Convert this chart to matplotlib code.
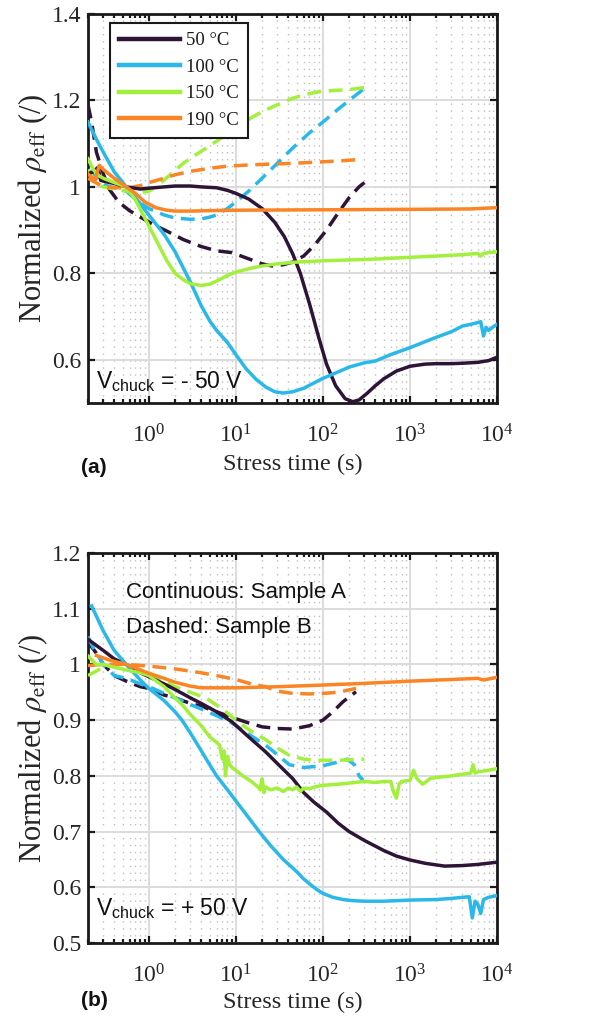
import numpy as np
import matplotlib
matplotlib.use("Agg")
import matplotlib.pyplot as plt
from matplotlib.ticker import LogLocator, NullFormatter, FixedLocator

plt.rcParams['font.family'] = ['Liberation Serif', 'DejaVu Serif']
plt.rcParams['mathtext.fontset'] = 'stix'

labels = ['50 °C', '100 °C', '150 °C', '190 °C']
colors = ['#2e1538', '#2ab8ea', '#a2f03c', '#fb8424']

# ---------------- Panel (a): V_chuck = -50 V ----------------
a50_sx = [0.2, 0.23, 0.26, 0.28, 0.32, 0.4, 0.55, 0.8, 1, 1.5, 2, 3, 4, 6, 8, 10, 14, 20, 28, 36, 45, 55, 70, 90,
          110, 140, 180, 220, 260, 320, 400, 500, 700, 1000, 1500, 2000, 3000, 4000, 6000, 8000, 10000]
a50_sy = [1.03, 1.035, 1.045, 1.015, 1.012, 1.008, 1.0, 0.995, 0.997, 1.0, 1.002, 1.002, 1.0, 0.998, 0.992, 0.985,
          0.972, 0.95, 0.918, 0.885, 0.845, 0.80, 0.73, 0.65, 0.59, 0.54, 0.51, 0.503, 0.507, 0.522, 0.54, 0.556,
          0.574, 0.585, 0.59, 0.591, 0.591, 0.592, 0.594, 0.598, 0.606]
a50_dx = [0.2, 0.22, 0.25, 0.3, 0.35, 0.45, 0.6, 0.8, 1.2, 1.6, 2.5, 4, 6, 9, 13, 20, 26, 35, 45, 60, 80, 110, 150,
          200, 260, 300]
a50_dy = [1.19, 1.15, 1.08, 1.03, 0.995, 0.965, 0.945, 0.93, 0.91, 0.898, 0.878, 0.862, 0.852, 0.848, 0.836, 0.822,
          0.817, 0.82, 0.826, 0.84, 0.865, 0.9, 0.94, 0.975, 1.0, 1.01]

a100_sx = [0.2, 0.25, 0.3, 0.4, 0.55, 0.7, 1, 1.5, 2, 3, 4, 5, 6, 8, 10, 13, 17, 22, 28, 35, 45, 60, 80, 100, 150,
           200, 300, 400, 600, 1000, 1500, 2000, 3000, 4000, 5000, 6000, 6500, 7000, 7500, 8000, 9000, 10000]
a100_sy = [1.15, 1.11, 1.08, 1.035, 1.0, 0.975, 0.935, 0.89, 0.85, 0.78, 0.725, 0.69, 0.668, 0.64, 0.612, 0.58,
           0.555, 0.537, 0.526, 0.523, 0.526, 0.534, 0.547, 0.557, 0.572, 0.583, 0.593, 0.597, 0.612, 0.628, 0.642,
           0.652, 0.665, 0.678, 0.682, 0.686, 0.688, 0.655, 0.675, 0.668, 0.676, 0.682]
a100_dx = [0.2, 0.25, 0.3, 0.4, 0.55, 0.8, 1, 1.5, 2, 3, 4, 5, 6, 8, 10, 14, 20, 30, 45, 70, 100, 150, 200, 300]
a100_dy = [1.04, 1.02, 1.005, 0.998, 0.99, 0.962, 0.95, 0.935, 0.928, 0.925, 0.926, 0.93, 0.935, 0.95, 0.965, 0.99,
           1.02, 1.055, 1.09, 1.125, 1.15, 1.18, 1.2, 1.228]

a150_sx = [0.2, 0.23, 0.27, 0.3, 0.4, 0.55, 0.7, 1, 1.3, 1.6, 2, 2.5, 3, 4, 5, 6, 8, 10, 15, 20, 30, 50, 100, 200,
           300, 500, 1000, 2000, 4000, 6000, 6500, 7000, 8000, 10000]
a150_sy = [1.065, 1.04, 1.025, 1.02, 1.01, 1.0, 0.97, 0.91, 0.865, 0.83, 0.8, 0.785, 0.776, 0.772, 0.775, 0.782,
           0.795, 0.803, 0.812, 0.817, 0.822, 0.826, 0.829, 0.831, 0.832, 0.834, 0.837, 0.84, 0.843, 0.846, 0.84,
           0.846, 0.848, 0.85]
a150_dx = [0.2, 0.25, 0.3, 0.4, 0.55, 0.7, 1, 1.3, 1.8, 2.5, 3.5, 5, 7, 10, 15, 22, 30, 45, 60, 90, 130, 200, 300]
a150_dy = [1.04, 1.005, 1.0, 0.995, 0.99, 0.985, 0.99, 1.005, 1.03, 1.055, 1.075, 1.095, 1.115, 1.135, 1.16, 1.178,
           1.19, 1.205, 1.213, 1.22, 1.223, 1.225, 1.23]

a190_sx = [0.2, 0.24, 0.27, 0.3, 0.4, 0.55, 0.7, 0.9, 1.2, 1.6, 2, 3, 5, 10, 100, 1000, 5000, 8000, 10000]
a190_sy = [1.03, 1.015, 1.05, 1.04, 1.02, 1.0, 0.985, 0.965, 0.952, 0.946, 0.944, 0.944, 0.945, 0.946, 0.947,
           0.948, 0.949, 0.951, 0.952]
a190_dx = [0.2, 0.3, 0.45, 0.6, 0.8, 1, 1.5, 2, 3, 5, 8, 12, 20, 40, 80, 150, 250]
a190_dy = [1.02, 1.0, 0.998, 0.998, 1.003, 1.01, 1.02, 1.028, 1.036, 1.043, 1.048, 1.05, 1.052, 1.054, 1.057, 1.06,
           1.063]

# ---------------- Panel (b): V_chuck = +50 V ----------------
b50_sx = [0.2, 0.3, 0.4, 0.55, 0.8, 1, 1.5, 2, 3, 4, 6, 9, 14, 22, 30, 45, 60, 80, 110, 150, 200, 300, 500, 700,
          1000, 1500, 2500, 4000, 6000, 10000]
b50_sy = [1.045, 1.025, 1.01, 1.0, 0.985, 0.978, 0.965, 0.955, 0.94, 0.93, 0.915, 0.897, 0.87, 0.843, 0.822, 0.795,
          0.77, 0.752, 0.735, 0.715, 0.70, 0.684, 0.666, 0.656, 0.649, 0.643, 0.638, 0.639, 0.641, 0.645]
b50_dx = [0.2, 0.25, 0.3, 0.4, 0.55, 0.8, 1, 1.5, 2, 3, 4, 6, 9, 14, 20, 30, 45, 70, 100, 130, 170, 240]
b50_dy = [1.04, 1.02, 1.0, 0.98, 0.97, 0.96, 0.957, 0.945, 0.94, 0.93, 0.925, 0.915, 0.905, 0.895, 0.888, 0.885,
          0.884, 0.89, 0.9, 0.915, 0.933, 0.951]

b100_sx = [0.22, 0.3, 0.4, 0.55, 0.8, 1, 1.5, 2, 2.4, 3, 4, 5, 6, 8, 10, 14, 18.5, 25, 35, 50, 60, 73, 85, 100, 130,
           170, 220, 300, 500, 1000, 2000, 3000, 4000, 4800, 5200, 5600, 6000, 6500, 7000, 8000, 10000]
b100_sy = [1.105, 1.06, 1.025, 1.0, 0.972, 0.957, 0.935, 0.915, 0.9, 0.877, 0.845, 0.82, 0.80, 0.775, 0.755, 0.725,
           0.70, 0.675, 0.65, 0.628, 0.615, 0.604, 0.596, 0.589, 0.582, 0.578, 0.576, 0.575, 0.575, 0.577, 0.578,
           0.58, 0.582, 0.583, 0.545, 0.575, 0.57, 0.553, 0.578, 0.582, 0.585]
b100_dx = [0.2, 0.23, 0.3, 0.4, 0.55, 0.8, 1, 1.5, 2, 3, 4, 6, 9, 14, 22, 30, 41, 60, 100, 150, 190, 230, 260, 290]
b100_dy = [1.05, 1.03, 1.0, 0.98, 0.975, 0.965, 0.96, 0.948, 0.94, 0.928, 0.92, 0.908, 0.895, 0.875, 0.855, 0.838,
           0.82, 0.815, 0.818, 0.825, 0.83, 0.82, 0.80, 0.792]

b150_sx = [0.2, 0.25, 0.3, 0.4, 0.55, 0.8, 1, 1.5, 2, 2.5, 3, 4, 5, 6, 6.5, 7, 7.3, 7.6, 8, 8.5, 9, 10, 12, 15, 18,
           19, 20, 21, 22, 25, 30, 35, 40, 45, 50, 55, 60, 70, 80, 100, 150, 200, 300, 400, 500, 600, 650, 700, 750,
           800, 1000, 1100, 1200, 1400, 1700, 2000, 3000, 4000, 5000, 5300, 5600, 6000, 8000, 10000]
b150_sy = [1.015, 1.0, 1.0, 0.995, 0.99, 0.985, 0.98, 0.96, 0.94, 0.925, 0.91, 0.89, 0.87, 0.86, 0.855, 0.83, 0.845,
           0.80, 0.835, 0.82, 0.815, 0.81, 0.80, 0.79, 0.78, 0.775, 0.795, 0.77, 0.78, 0.775, 0.778, 0.772, 0.778,
           0.775, 0.78, 0.772, 0.778, 0.777, 0.78, 0.783, 0.785, 0.787, 0.79, 0.788, 0.79, 0.79, 0.77, 0.76, 0.785,
           0.79, 0.792, 0.81, 0.795, 0.785, 0.795, 0.797, 0.80, 0.803, 0.805, 0.82, 0.805, 0.807, 0.81, 0.813]
b150_dx = [0.2, 0.3, 0.4, 0.55, 0.8, 1, 1.5, 2, 3, 4.5, 7, 10, 15, 22, 30, 41, 60, 83, 150, 300]
b150_dy = [0.98, 0.995, 1.0, 1.0, 0.99, 0.985, 0.97, 0.96, 0.95, 0.94, 0.92, 0.9, 0.88, 0.865, 0.85, 0.837, 0.83,
           0.828, 0.828, 0.83]

b190_sx = [0.25, 0.35, 0.55, 0.8, 1, 1.5, 2, 3, 4, 6, 10, 30, 100, 300, 1000, 3000, 6000, 7000, 10000]
b190_sy = [1.016, 1.008, 1.0, 0.99, 0.984, 0.975, 0.968, 0.961, 0.958, 0.958, 0.958, 0.96, 0.963, 0.966, 0.97,
           0.973, 0.975, 0.972, 0.977]
b190_dx = [0.2, 0.3, 0.55, 1, 2, 4, 6, 10, 15, 22, 30, 45, 70, 100, 150, 240]
b190_dy = [0.998, 1.0, 1.0, 0.997, 0.992, 0.985, 0.98, 0.973, 0.965, 0.96, 0.952, 0.948, 0.947, 0.948, 0.95, 0.957]

panel_a = [(a50_sx, a50_sy, a50_dx, a50_dy), (a100_sx, a100_sy, a100_dx, a100_dy),
           (a150_sx, a150_sy, a150_dx, a150_dy), (a190_sx, a190_sy, a190_dx, a190_dy)]
panel_b = [(b50_sx, b50_sy, b50_dx, b50_dy), (b100_sx, b100_sy, b100_dx, b100_dy),
           (b150_sx, b150_sy, b150_dx, b150_dy), (b190_sx, b190_sy, b190_dx, b190_dy)]

fig = plt.figure(figsize=(6.07, 10.26), dpi=100)
W, H = 607.0, 1026.0
ax1 = fig.add_axes([88 / W, 1 - 403 / H, 409 / W, 389 / H])
ax2 = fig.add_axes([88 / W, 1 - 943 / H, 409 / W, 390 / H])

LW = 2.5
DASH = (0, (4.0, 2.2))


def style(ax, ylim, yticks, yticklabels, xlab_y):
    ax.set_xscale('log')
    ax.set_xlim(0.2, 1e4)
    ax.set_ylim(*ylim)
    ax.set_yticks(yticks)
    ax.set_yticklabels(yticklabels)
    ax.xaxis.set_major_locator(FixedLocator([1, 10, 100, 1000, 10000]))
    ax.xaxis.set_minor_locator(LogLocator(base=10, subs=np.arange(2, 10), numticks=20))
    ax.xaxis.set_minor_formatter(NullFormatter())
    ax.grid(True, which='major', color='#dcdcdc', lw=1.4, ls='-', zorder=0)
    ax.grid(True, which='minor', axis='x', color='#bdbdbd', lw=1.0, ls=(0, (1, 4)), zorder=0)
    ax.set_axisbelow(True)
    ax.tick_params(which='both', direction='in', top=True, right=True, colors='#1a1a1a',
                   labelcolor='#262626', labelsize=17, width=1.6)
    ax.tick_params(which='major', length=5)
    ax.tick_params(which='minor', length=3)
    ax.tick_params(axis='x', pad=15)
    ax.tick_params(axis='y', pad=5)
    for s in ax.spines.values():
        s.set_linewidth(2.0)
        s.set_color('#1a1a1a')
    ax.set_xlabel('Stress time (s)', fontsize=17.5, color='#262626')
    ax.set_ylabel(r'Normalized $\rho_{\rm eff}$ (/)', fontsize=22, color='#262626')
    ax.xaxis.set_label_coords(0.5, xlab_y)
    ax.yaxis.set_label_coords(-0.093, 0.5)


for ax, data in ((ax1, panel_a), (ax2, panel_b)):
    for (sx, sy, dx, dy), c, lab in zip(data, colors, labels):
        ax.plot(dx, dy, color=c, lw=LW, ls=DASH, zorder=3)
    for (sx, sy, dx, dy), c, lab in zip(data, colors, labels):
        ax.plot(sx, sy, color=c, lw=LW, ls='-', label=lab, zorder=4, solid_joinstyle='round')

style(ax1, (0.5, 1.4), [0.6, 0.8, 1.0, 1.2, 1.4], ['0.6', '0.8', '1', '1.2', '1.4'], -0.132)
style(ax2, (0.5, 1.2), [0.5, 0.6, 0.7, 0.8, 0.9, 1.0, 1.1, 1.2],
      ['0.5', '0.6', '0.7', '0.8', '0.9', '1', '1.1', '1.2'], -0.126)

leg = ax1.legend(loc='upper left', bbox_to_anchor=(0.054, 0.977), borderaxespad=0, fontsize=13.5,
                 frameon=True, fancybox=False, framealpha=1, edgecolor='#1a1a1a', handlelength=3.25,
                 handletextpad=0.3, labelspacing=0.5, borderpad=0.5)
leg.get_frame().set_linewidth(1.5)
for t in leg.get_texts():
    t.set_color('#1a1a1a')
for l in leg.get_lines():
    l.set_linewidth(3.2)

sans = ['Liberation Sans', 'DejaVu Sans']
plt.rcParams['mathtext.fontset'] = 'custom'
plt.rcParams['mathtext.rm'] = 'Liberation Sans'
plt.rcParams['mathtext.it'] = 'Liberation Sans:italic'

ax1.text(96 / W, 1 - 388 / H, r'V$_{\mathrm{chuck}}$ = - 50 V', transform=fig.transFigure, fontsize=16.5,
         family=sans, color='#111111', va='baseline', math_fontfamily='custom', zorder=6)
ax2.text(96 / W, 1 - 915 / H, r'V$_{\mathrm{chuck}}$ = + 50 V', transform=fig.transFigure, fontsize=16.5,
         family=sans, color='#111111', va='baseline', math_fontfamily='custom', zorder=6)
ax2.text(126 / W, 1 - 598 / H, 'Continuous: Sample A', transform=fig.transFigure, fontsize=16,
         family=sans, color='#111111', va='baseline')
ax2.text(126 / W, 1 - 633 / H, 'Dashed: Sample B', transform=fig.transFigure, fontsize=16,
         family=sans, color='#111111', va='baseline')

fig.text(81 / W, 1 - 467 / H, '(a)', fontsize=15, family=sans, weight='bold', va='center', color='#111111')
fig.text(81 / W, 1 - 1000 / H, '(b)', fontsize=15, family=sans, weight='bold', va='center', color='#111111')

fig.savefig('out.png', dpi=100, facecolor='white')
